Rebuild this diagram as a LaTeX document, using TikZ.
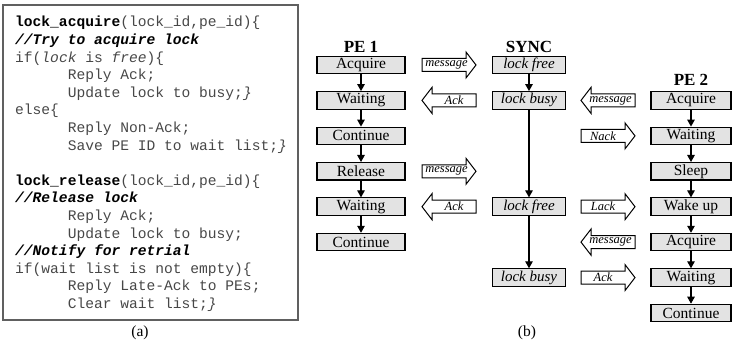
\documentclass[tikz,border=0pt]{standalone}
\usepackage{fontspec}
\setmainfont{Liberation Serif}
\setmonofont{Liberation Mono}
\usetikzlibrary{arrows.meta,calc}
\newcommand\codeind{\hspace*{52.6pt}}
\begin{document}
\begin{tikzpicture}[x=1pt,y=-1pt,
  codeline/.style={anchor=base west, inner sep=0, font=\ttfamily\fontsize{14.6}{16}\selectfont, text=black!72},
  state/.style={draw, fill=gray!22, line width=1.1pt, minimum height=17.5, inner sep=0, font=\fontsize{15.5}{15.5}\selectfont},
  peone/.style={state, minimum width=88},
  sync/.style={state, minimum width=73, font=\itshape\fontsize{15}{15}\selectfont},
  petwo/.style={state, minimum width=80},
  title/.style={inner sep=0, font=\bfseries\fontsize{17}{17}\selectfont},
  msg/.style={inner sep=0, outer sep=0, minimum height=13, minimum width=44},
  msgtext/.style={inner sep=0, font=\itshape\fontsize{12.5}{12.5}\selectfont},
  blockarrow/.style={draw, fill=white, line width=1pt, line join=miter},
  flow/.style={-{Triangle[length=7pt,width=7.5pt]}, line width=1.2pt},
  caption/.style={inner sep=0, font=\fontsize{15.5}{15.5}\selectfont}
]
\useasboundingbox (0,0) rectangle (732,344);

% ---------- code box ----------
\draw[draw=gray!75!black, line width=1.4pt] (3,5) rectangle (298,320);
\node[codeline] (c1)  at (15,27.0)  {\textbf{\color{black}lock\_acquire}(lock\_id,pe\_id)\{};
\node[codeline] (c2)  at (15,44.6)  {\textcolor{black}{\textbf{\textit{//Try to acquire lock}}}};
\node[codeline] (c3)  at (15,62.2)  {if(\textit{lock} is \textit{free})\{};
\node[codeline] (c4)  at (15,79.8)  {\codeind Reply Ack;};
\node[codeline] (c5)  at (15,97.4)  {\codeind Update lock to busy;\textit{\}}};
\node[codeline] (c6)  at (15,115.0) {else\{};
\node[codeline] (c7)  at (15,132.6) {\codeind Reply Non-Ack;};
\node[codeline] (c8)  at (15,150.2) {\codeind Save PE ID to wait list;\textit{\}}};
\node[codeline] (c10) at (15,185.4) {\textbf{\color{black}lock\_release}(lock\_id,pe\_id)\{};
\node[codeline] (c11) at (15,203.0) {\textcolor{black}{\textbf{\textit{//Release lock}}}};
\node[codeline] (c12) at (15,220.6) {\codeind Reply Ack;};
\node[codeline] (c13) at (15,238.2) {\codeind Update lock to busy;};
\node[codeline] (c14) at (15,255.8) {\textcolor{black}{\textbf{\textit{//Notify for retrial}}}};
\node[codeline] (c15) at (15,273.4) {if(wait list is not empty)\{};
\node[codeline] (c16) at (15,291.0) {\codeind Reply Late-Ack to PEs;};
\node[codeline] (c17) at (15,308.6) {\codeind Clear wait list;\textit{\}}};
\node[caption] (capa) at (140,333) {(a)};

% ---------- titles ----------
\node[title] (t1) at (361,47) {PE 1};
\node[title] (t2) at (529,47) {SYNC};
\node[title] (t3) at (691,80) {PE 2};

% ---------- PE 1 ----------
\node[peone] (p1) at (361,65.0)  {Acquire};
\node[peone] (p2) at (361,100.4) {Waiting};
\node[peone] (p3) at (361,135.9) {Continue};
\node[peone] (p4) at (361,171.3) {Release};
\node[peone] (p5) at (361,206.7) {Waiting};
\node[peone] (p6) at (361,242.1) {Continue};
\foreach \a/\b in {p1/p2,p2/p3,p3/p4,p4/p5,p5/p6} \draw[flow] (\a.south) -- (\b.north);

% ---------- SYNC ----------
\node[sync] (s1) at (529,65.0)  {lock free};
\node[sync] (s2) at (529,100.4) {lock busy};
\node[sync] (s3) at (529,206.7) {lock free};
\node[sync] (s4) at (529,277.6) {lock busy};
\foreach \a/\b in {s1/s2,s2/s3,s3/s4} \draw[flow] (\a.south) -- (\b.north);

% ---------- PE 2 ----------
\node[petwo] (q1) at (691,100.4) {Acquire};
\node[petwo] (q2) at (691,135.9) {Waiting};
\node[petwo] (q3) at (691,171.3) {Sleep};
\node[petwo] (q4) at (691,206.7) {Wake up};
\node[petwo] (q5) at (691,242.1) {Acquire};
\node[petwo] (q6) at (691,277.6) {Waiting};
\node[petwo] (q7) at (691,313.0) {Continue};
\foreach \a/\b in {q1/q2,q2/q3,q3/q4,q4/q5,q5/q6,q6/q7} \draw[flow] (\a.south) -- (\b.north);

% ---------- message arrows ----------
\newcommand\rightmsg[1]{%
  \draw[blockarrow] (#1.north west) -- (#1.north east) -- ++(0,-6.5)
    -- ($(#1.east)+(10,0)$) -- ($(#1.south east)+(0,6.5)$) -- (#1.south east)
    -- (#1.south west) -- cycle;}
\newcommand\leftmsg[1]{%
  \draw[blockarrow] (#1.north east) -- (#1.north west) -- ++(0,-6.5)
    -- ($(#1.west)+(-10,0)$) -- ($(#1.south west)+(0,6.5)$) -- (#1.south west)
    -- (#1.south east) -- cycle;}

\node[msg] (a1) at (444,65.0)  {};
\node[msg] (a2) at (454,100.4) {};
\node[msg] (a3) at (444,171.3) {};
\node[msg] (a4) at (454,206.7) {};
\node[msg] (b1) at (613,100.4) {};
\node[msg] (b2) at (603,135.9) {};
\node[msg] (b3) at (603,206.7) {};
\node[msg] (b4) at (613,242.1) {};
\node[msg] (b5) at (603,277.6) {};
\rightmsg{a1}\leftmsg{a2}\rightmsg{a3}\leftmsg{a4}
\leftmsg{b1}\rightmsg{b2}\rightmsg{b3}\leftmsg{b4}\rightmsg{b5}
\node[msgtext] (a1t) at ($(a1)+(2.5,0)$) {message};
\node[msgtext] (a2t) at (a2) {Ack};
\node[msgtext] (a3t) at ($(a3)+(2.5,0)$) {message};
\node[msgtext] (a4t) at (a4) {Ack};
\node[msgtext] (b1t) at ($(b1)+(-2.5,0)$) {message};
\node[msgtext] (b2t) at (b2) {Nack};
\node[msgtext] (b3t) at (b3) {Lack};
\node[msgtext] (b4t) at ($(b4)+(-2.5,0)$) {message};
\node[msgtext] (b5t) at (b5) {Ack};

\node[caption] (capb) at (527,333) {(b)};
\end{tikzpicture}
\end{document}
